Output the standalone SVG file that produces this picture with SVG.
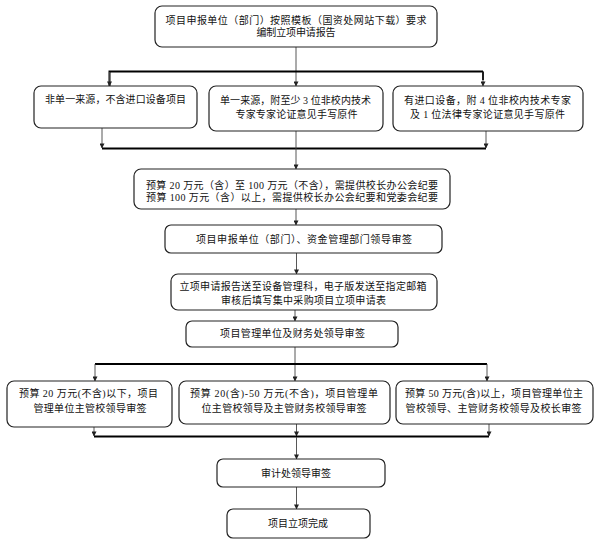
<svg xmlns="http://www.w3.org/2000/svg" width="596" height="545" viewBox="0 0 596 545">
<style>
.box{fill:#fff;stroke:#222;stroke-width:1.2}
.t{font-family:"Liberation Serif","Noto Sans CJK SC",serif;font-size:10px;fill:#111;text-anchor:middle}
.ln{fill:none;stroke:#444;stroke-width:0.9}
.bus{fill:none;stroke:#000;stroke-width:2}
</style>
<defs>
<marker id="ah" viewBox="0 0 6 6" refX="5.5" refY="3" markerWidth="5" markerHeight="5" orient="auto" markerUnits="userSpaceOnUse">
<path d="M0,0 L6,3 L0,6 z" fill="#222"/>
</marker>
</defs>
<rect width="596" height="545" fill="#fff"/>
<g id="connectors">
<line class="ln" x1="296" y1="47" x2="296" y2="86" marker-end="url(#ah)"/>
<polyline class="bus" points="109.5,86 109.5,71.5 483,71.5"/>
<line class="bus" x1="483" y1="71.5" x2="483" y2="80"/>
<line class="ln" x1="109.5" y1="72" x2="109.5" y2="86" marker-end="url(#ah)"/>
<line class="ln" x1="483" y1="72" x2="483" y2="86" marker-end="url(#ah)"/>
<line class="ln" x1="102" y1="128" x2="102" y2="148" marker-end="url(#ah)"/>
<line class="ln" x1="486" y1="131" x2="486" y2="148" marker-end="url(#ah)"/>
<line class="bus" x1="102" y1="148.5" x2="486" y2="148.5"/>
<line class="ln" x1="296" y1="131" x2="296" y2="169" marker-end="url(#ah)"/>
<line class="ln" x1="296" y1="209" x2="296" y2="225" marker-end="url(#ah)"/>
<line class="ln" x1="296.5" y1="253" x2="296.5" y2="274" marker-end="url(#ah)"/>
<line class="ln" x1="295" y1="310" x2="295" y2="321" marker-end="url(#ah)"/>
<line class="ln" x1="295" y1="347" x2="295" y2="381" marker-end="url(#ah)"/>
<line class="bus" x1="95" y1="364" x2="487" y2="364"/>
<line class="ln" x1="95" y1="364" x2="95" y2="381" marker-end="url(#ah)"/>
<line class="ln" x1="487" y1="364" x2="487" y2="381" marker-end="url(#ah)"/>
<line class="ln" x1="94" y1="427" x2="94" y2="436" marker-end="url(#ah)"/>
<line class="ln" x1="296.5" y1="424" x2="296.5" y2="436" marker-end="url(#ah)"/>
<line class="ln" x1="489" y1="424" x2="489" y2="436" marker-end="url(#ah)"/>
<line class="bus" x1="94" y1="436.5" x2="489" y2="436.5"/>
<line class="ln" x1="296.5" y1="437" x2="296.5" y2="459" marker-end="url(#ah)"/>
<line class="ln" x1="296.5" y1="487" x2="296.5" y2="509" marker-end="url(#ah)"/>
</g>
<g id="n1">
<rect class="box" x="155" y="6" width="282" height="41" rx="7"/>
<text class="t" x="296" y="24" textLength="261" lengthAdjust="spacing">项目申报单位（部门）按照模板（国资处网站下载）要求</text>
<text class="t" x="296" y="36" textLength="79" lengthAdjust="spacing">编制立项申请报告</text>
</g>
<g id="n2a">
<rect class="box" x="34" y="86" width="163" height="42" rx="7"/>
<text class="t" x="115.5" y="103" textLength="141" lengthAdjust="spacing">非单一来源，不含进口设备项目</text>
</g>
<g id="n2b">
<rect class="box" x="209" y="86" width="174" height="45" rx="7"/>
<text class="t" x="295.5" y="103.5" textLength="151" lengthAdjust="spacing">单一来源，附至少 3 位非校内技术</text>
<text class="t" x="296.5" y="117.5" textLength="122" lengthAdjust="spacing">专家专家论证意见手写原件</text>
</g>
<g id="n2c">
<rect class="box" x="393" y="86" width="190" height="45" rx="7"/>
<text class="t" x="487.5" y="103.5" textLength="167" lengthAdjust="spacing">有进口设备，附 4 位非校内技术专家</text>
<text class="t" x="487.5" y="117.5" textLength="155" lengthAdjust="spacing">及 1 位法律专家论证意见手写原件</text>
</g>
<g id="n3">
<rect class="box" x="134" y="169" width="316" height="40" rx="7"/>
<text class="t" x="292" y="188.5" textLength="292" lengthAdjust="spacing">预算 20 万元（含）至 100 万元（不含），需提供校长办公会纪要</text>
<text class="t" x="292" y="200.5" textLength="292" lengthAdjust="spacing">预算 100 万元（含）以上，需提供校长办公会纪要和党委会纪要</text>
</g>
<g id="n4">
<rect class="box" x="165" y="225" width="277" height="28" rx="6"/>
<text class="t" x="304" y="242.5" textLength="216" lengthAdjust="spacing">项目申报单位（部门）、资金管理部门领导审签</text>
</g>
<g id="n5">
<rect class="box" x="171" y="274" width="266" height="36" rx="7"/>
<text class="t" x="303" y="290" textLength="247" lengthAdjust="spacing">立项申请报告送至设备管理科，电子版发送至指定邮箱</text>
<text class="t" x="303.5" y="303.5" textLength="165" lengthAdjust="spacing">审核后填写集中采购项目立项申请表</text>
</g>
<g id="n6">
<rect class="box" x="186" y="321" width="212" height="26" rx="6"/>
<text class="t" x="292.5" y="336.5" textLength="145" lengthAdjust="spacing">项目管理单位及财务处领导审签</text>
</g>
<g id="n7a">
<rect class="box" x="7" y="381" width="165" height="46" rx="7"/>
<text class="t" x="88.5" y="396.5" textLength="139" lengthAdjust="spacing">预算 20 万元(不含)以下，项目</text>
<text class="t" x="90" y="411.5" textLength="113" lengthAdjust="spacing">管理单位主管校领导审签</text>
</g>
<g id="n7b">
<rect class="box" x="179" y="381" width="211" height="43" rx="7"/>
<text class="t" x="284" y="396.5" textLength="188" lengthAdjust="spacing">预算 20(含)-50 万元(不含)，项目管理单</text>
<text class="t" x="284" y="411.5" textLength="165" lengthAdjust="spacing">位主管校领导及主管财务校领导审签</text>
</g>
<g id="n7c">
<rect class="box" x="396" y="381" width="197" height="43" rx="7"/>
<text class="t" x="494" y="396.5" textLength="178" lengthAdjust="spacing">预算 50 万元(含)以上，项目管理单位主</text>
<text class="t" x="493.5" y="411.5" textLength="176" lengthAdjust="spacing">管校领导、主管财务校领导及校长审签</text>
</g>
<g id="n8">
<rect class="box" x="217" y="459" width="168" height="28" rx="6"/>
<text class="t" x="296" y="476.5" textLength="70" lengthAdjust="spacing">审计处领导审签</text>
</g>
<g id="n9">
<rect class="box" x="227" y="509" width="143" height="29" rx="6"/>
<text class="t" x="298" y="527" textLength="60" lengthAdjust="spacing">项目立项完成</text>
</g>
</svg>
